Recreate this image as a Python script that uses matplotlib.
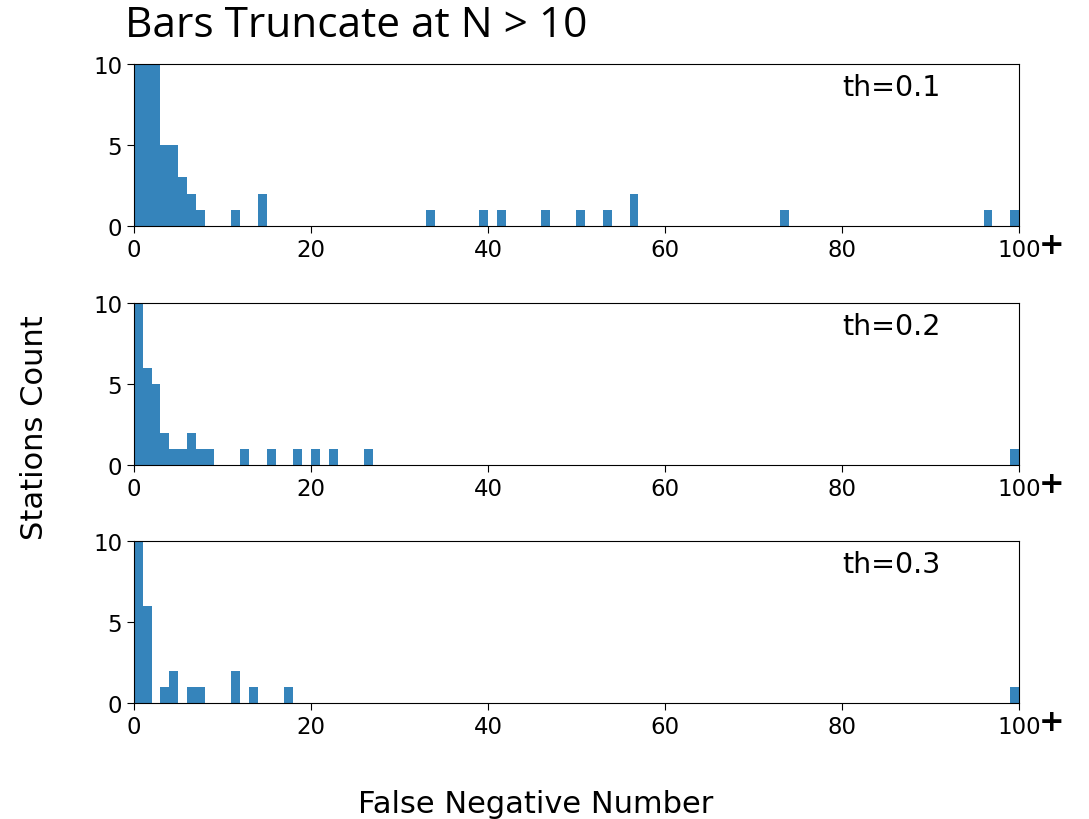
import numpy as np
import matplotlib
matplotlib.use("Agg")
import matplotlib.pyplot as plt

plt.rcParams["font.family"] = ["DejaVu Sans"]

# histogram bins are 1 wide, 0..100; last bin holds everything >= 99 ("100+")
thresholds = ["th=0.1", "th=0.2", "th=0.3"]

bins_01 = [0, 1, 2, 3, 4, 5, 6, 7, 11, 14, 33, 39, 41, 46, 50, 53, 56, 73, 96, 99]
counts_01 = [10, 10, 10, 5, 5, 3, 2, 1, 1, 2, 1, 1, 1, 1, 1, 1, 2, 1, 1, 1]

bins_02 = [0, 1, 2, 3, 4, 5, 6, 7, 8, 12, 15, 18, 20, 22, 26, 99]
counts_02 = [10, 6, 5, 2, 1, 1, 2, 1, 1, 1, 1, 1, 1, 1, 1, 1]

bins_03 = [0, 1, 3, 4, 6, 7, 11, 13, 17, 99]
counts_03 = [10, 6, 1, 2, 1, 1, 2, 1, 1, 1]

xticks = [0, 20, 40, 60, 80, 100]
yticks = [0, 5, 10]

title_font = ["Open Sans", "DejaVu Sans"]

fig = plt.figure(figsize=(10.89, 8.2), dpi=100)

tops = [0.9207, 0.6293, 0.339]
height = 0.1975
data = [(bins_01, counts_01), (bins_02, counts_02), (bins_03, counts_03)]

for top, (b, c), th in zip(tops, data, thresholds):
    ax = fig.add_axes([0.123, top - height, 0.8127, height])
    ax.bar(b, c, width=1, align="edge", color="#1f77b4", alpha=0.9,
           linewidth=0)
    ax.set_xlim(0, 100)
    ax.set_ylim(0, 10)
    ax.set_xticks(xticks)
    ax.set_yticks(yticks)
    ax.tick_params(labelsize=16.5, length=5)
    ax.text(0.856, 0.86, th, transform=ax.transAxes, ha="center", va="center",
            fontsize=20.5)
    # "+" marks the last bin as 100 and above
    ax.text(1.037, -0.115, "+", transform=ax.transAxes, ha="center",
            va="center", fontsize=22, fontweight="bold")

fig.text(0.115, 0.968, "Bars Truncate at N > 10", ha="left", va="center",
         fontsize=30.5, family=title_font)
fig.text(0.032, 0.478, "Stations Count", rotation=90, ha="center",
         va="center", fontsize=22)
fig.text(0.492, 0.019, "False Negative Number", ha="center", va="center",
         fontsize=22)

fig.savefig("out.png", dpi=100)
